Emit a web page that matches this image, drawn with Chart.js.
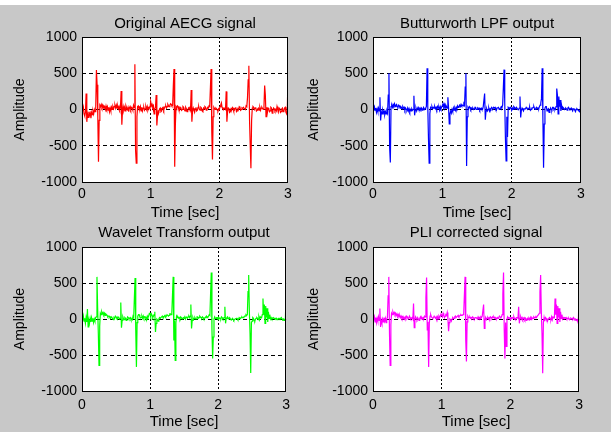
<!DOCTYPE html>
<html>
<head>
<meta charset="utf-8">
<script src="https://cdn.jsdelivr.net/npm/chart.js@4.4.1/dist/chart.umd.min.js"></script>
<style>
  html, body { margin: 0; padding: 0; background: #ffffff; }
  #figure { position: relative; width: 611px; height: 432px; overflow: hidden; }
  #figure .bg { position: absolute; left: 0; top: 5px; width: 611px; height: 427px; background: #c8c8c8; }
  #figure canvas { position: absolute; }
</style>
</head>
<body>
<div id="figure">
  <div class="bg"></div>
  <canvas id="p1" width="290" height="218" style="left:6px;top:5px"></canvas>
  <canvas id="p2" width="289" height="218" style="left:300px;top:5px"></canvas>
  <canvas id="p3" width="290" height="217" style="left:6px;top:215px"></canvas>
  <canvas id="p4" width="289" height="217" style="left:300px;top:215px"></canvas>
</div>
<script>
// Axis limits shared by all four subplots
const timeRange = [0, 3];
const ampRange = [-1000, 1000];
const timeStep = 1;
const ampStep = 500;
const sampleInterval = 0.01; // seconds between samples

const panelTitles = ['Original AECG signal', 'Butturworth LPF output', 'Wavelet Transform output', 'PLI corrected signal'];
const xLabel = 'Time [sec]';
const yLabel = 'Amplitude';

// Amplitude samples, one row per 100 ms (0 .. 3 s)
const originalSignal = [
  40, -20, 30, -60, -90, -40, 220, -170, -60, -110,
  -30, -80, -50, -120, -40, -70, -20, -60, 0, -30,
  20, 545, 340, -100, -720, -150, 60, 40, 70, 30,
  60, 20, 50, 40, 0, 50, 10, 40, -10, 30,
  -30, 20, -20, 30, 0, 40, 10, 40, 60, 20,
  60, 20, 50, 10, 40, 0, 30, 255, -210, -20,
  40, -10, 30, -20, 50, 20, 0, 30, -30, 20,
  40, 0, 30, 20, -10, 60, 30, 625, -560, -740,
  -100, 40, 50, 10, 0, 40, -20, 30, -20, 20,
  30, -10, 10, 40, 0, 40, -10, 20, 30, 10,
  110, 50, 70, 30, 50, -60, 10, 30, 200, -220,
  -80, -20, -30, 10, 20, -30, -20, 20, 30, -10,
  20, 40, 50, 20, 40, 70, 50, 40, 60, 80,
  70, 50, 60, 330, 560, -790, -200, 40, 20, 50,
  40, 0, -10, 30, 20, -10, 0, 40, 30, 0,
  -20, 30, 10, -30, -20, 20, 30, 0, -10, 270,
  -170, -20, 20, -10, -40, 10, 30, -20, -10, 30,
  40, 0, -10, 30, 20, -20, -30, 20, 10, 40,
  30, -10, 0, 30, 20, 50, 40, 300, 560, -300,
  -690, -100, 30, 10, 0, 20, 10, -10, -20, 10,
  0, 40, 60, 90, 30, 10, 0, 20, 10, 0,
  250, -170, -30, 20, 10, -40, -30, 10, 0, 30,
  20, -20, -10, 20, 30, -30, -20, 10, 0, 40,
  30, -10, 0, 20, 10, 30, 20, 10, 0, 50,
  40, 160, 410, 605, -150, -500, -810, -150, 20, 40,
  30, 0, 20, 30, -20, -10, 10, 20, -10, 30,
  -10, 20, 30, 10, 0, 40, 330, 200, -100, 30,
  -40, 20, 10, -30, -20, 30, 20, -50, -20, 20,
  10, -20, 0, -20, 40, 0, -30, 20, 10, -40,
  -30, 10, 20, -30, -20, 20, 30, -40, -60, -20,
  520
];

const butterworthOutput = [
  30, 10, 40, -10, 20, -40, 10, -30, 20, -20,
  170, -150, -30, -60, -10, -50, -20, -70, -30, -60,
  -20, -50, 200, 500, -520, -730, 40, 60, 30, 70,
  50, 80, 40, 60, 70, 40, 30, 60, 50, 20,
  40, 30, 10, 40, 20, 30, -10, 20, 0, -10,
  20, -20, 10, -30, 0, -20, 10, -10, 0, 190,
  -80, -10, 20, -20, 10, 30, 0, -10, 20, 0,
  20, -10, 10, 30, 0, 10, 20, 40, 570, 50,
  -400, -740, -60, 30, 20, 40, 10, 30, 20, 40,
  10, 30, 0, 40, 20, 30, -10, 40, 10, 30,
  50, 80, 40, 70, 20, 60, 40, 20, 170, 20,
  -200, -60, -20, -50, 0, -30, 20, -10, 20, -10,
  30, 10, 50, 30, 40, 60, 40, 70, 50, 60,
  50, 80, 60, 310, 500, -780, -100, 30, 10, 40,
  30, 0, 20, 10, 20, 0, 10, 30, 30, 0,
  0, 20, 10, 20, -10, 10, 20, 0, 0, 40,
  40, 220, -140, -20, 10, -20, 0, 20, -20, 10,
  0, 30, 20, 10, 30, 20, 30, 0, -10, 20,
  20, 30, 0, 10, 20, 40, 30, 60, 300, 550,
  100, -400, -710, -100, -380, 30, 20, 10, 30, 20,
  -10, 20, 0, 40, 30, 10, 20, 30, 10, 0,
  0, 20, 180, -110, -10, 20, 0, -20, 10, 10,
  10, 30, 20, 0, 10, 20, 30, -10, 0, 20,
  20, 30, 40, 10, 0, 20, 30, 10, 20, 10,
  40, 60, 90, 150, 570, -100, -805, -200, 20, 40,
  40, -20, 0, 10, -40, -20, 20, 0, -10, 30,
  30, 0, 10, 0, 40, 290, 200, -60, 180, 40,
  130, -20, 60, 10, 30, 20, 0, 10, 20, 10,
  -10, 20, 30, 10, 0, 10, 20, 0, -20, 10,
  10, -10, -30, 0, 10, 0, -10, -20, -30, 0,
  410
];

const waveletOutput = [
  30, -20, 40, -30, 10, -60, 20, -40, 140, -110,
  -20, -60, 10, -40, 20, -30, 10, -50, 0, -30,
  20, 30, 585, 150, -200, -645, -100, 80, 60, 100,
  70, 90, 60, 80, 50, 70, 60, 50, 30, 40,
  40, 20, 10, 30, 20, 0, -10, 20, 10, 40,
  30, 10, 0, 30, 20, 0, 10, 230, -120, -20,
  30, 0, -10, 20, 10, -20, 0, 30, 20, 0,
  10, 20, -10, 0, -10, 40, 20, 300, 570, -150,
  -665, -50, 40, 60, 60, 30, 20, 20, 40, 10,
  40, 10, 30, 30, 0, -10, 40, 20, 40, 80,
  80, 40, 70, 50, 20, 40, 60, 100, -180, -60,
  0, -10, -30, 0, 20, 10, 10, 30, 40, 20,
  20, 40, 50, 30, 40, 60, 60, 40, 50, 70,
  70, 60, 80, 330, 585, -300, -20, -575, -50, 40,
  20, 30, 10, 20, 0, 30, 20, 0, 10, 20,
  10, 20, 0, 30, 20, 10, 30, 40, 20, 40,
  200, -130, -20, 20, -10, 10, 20, 0, 0, 30,
  30, 10, 20, 40, 30, 20, 10, 30, 20, 0,
  10, 20, 30, 40, 20, 30, 40, 60, 50, 350,
  645, -150, -550, -250, 0, 30, 10, 10, 20, 20,
  -10, 20, 10, 10, 0, 30, 20, 0, 10, 20,
  170, -60, 10, 20, 30, 0, 10, 20, 0, -10,
  -10, 10, 0, -20, -10, 0, 0, 10, 10, -10,
  -10, 20, 10, 10, 20, 30, 20, 20, 30, 40,
  40, 60, 50, 60, 380, 610, 100, -200, -750, -50,
  -30, 20, 10, -20, -30, 0, 10, 20, 10, -10,
  30, -10, 30, 20, 20, 60, 285, 60, 200, -60,
  180, 20, 150, -40, 100, 10, 60, 0, 20, 0,
  10, 20, 10, 0, 10, 0, 10, -10, 0, 10,
  10, 0, 10, 20, 0, -10, 0, -20, -10, 10,
  410
];

const pliCorrected = [
  40, -10, 30, -40, 20, -50, 10, -30, 30, -20,
  145, -110, -20, -60, 0, -40, 20, -30, 10, -50,
  0, 20, 320, 585, -200, -645, -80, 80, 60, 100,
  70, 90, 60, 80, 50, 70, 40, 60, 30, 50,
  20, 40, 10, 30, 0, 20, 0, 30, 10, 40,
  30, 0, 10, 40, 20, 0, 10, 20, 0, 215,
  -120, -10, 30, 10, -10, 20, 0, -20, 10, 30,
  0, 20, 0, 20, 10, 40, 30, 300, 575, -150,
  -40, -665, -50, 40, 60, 30, 20, 10, 20, 40,
  40, 10, 30, 0, 30, 0, 40, 20, 40, 70,
  70, 30, 80, 50, 20, 40, 60, 50, 90, 10,
  -170, -50, 0, -10, -30, 0, 20, 10, 10, 30,
  40, 20, 20, 40, 50, 30, 40, 50, 60, 50,
  50, 60, 70, 330, 585, -300, -590, -40, 40, 20,
  20, 30, 10, 20, 10, 30, 20, 0, 10, 20,
  20, 10, 0, 30, 10, 20, 0, 30, 20, 40,
  40, 200, -130, -20, 20, -10, 10, 20, 0, 20,
  0, 30, 20, 10, 30, 20, 30, 10, 20, 0,
  0, 20, 10, 20, 40, 30, 20, 30, 60, 350,
  645, -150, -550, -50, -380, 0, 30, 10, 20, 10,
  -10, 20, 10, 20, 10, 30, 0, 10, 0, 20,
  20, 10, 170, -60, 10, 30, 0, 20, -10, 10,
  20, -10, 10, -20, 0, 10, -10, 10, -10, 20,
  -10, 20, 10, 10, 30, 20, 20, 30, 20, 40,
  40, 60, 80, 380, 610, 100, -200, -755, -50, 20,
  -30, 20, 10, -20, -30, 0, 10, 20, 0, -10,
  30, -10, 30, 20, 20, 285, 60, 200, -60, 180,
  20, 150, -40, 100, 10, 60, 0, 20, 10, 20,
  10, 20, 0, 10, 0, 10, -10, 0, 10, 0,
  10, 0, 20, 0, -10, 0, -20, -10, -20, 10,
  410
];

const FONT = '"Liberation Sans", Arial, Helvetica, sans-serif';

// white axes background, full black box and a title centred over the axes
const axesBox = {
  id: 'axesBox',
  beforeDraw(chart) {
    const a = chart.chartArea, ctx = chart.ctx;
    ctx.save();
    ctx.fillStyle = '#ffffff';
    ctx.fillRect(a.left, a.top, a.right - a.left, a.bottom - a.top);
    ctx.restore();
  },
  afterDraw(chart, args, opts) {
    const a = chart.chartArea, ctx = chart.ctx;
    ctx.save();
    ctx.strokeStyle = '#000000';
    ctx.lineWidth = 1;
    ctx.strokeRect(Math.round(a.left) + 0.5, Math.round(a.top) + 0.5,
      Math.round(a.right - a.left) - 1, Math.round(a.bottom - a.top));
    ctx.fillStyle = '#000000';
    ctx.font = '15px ' + FONT;
    ctx.textAlign = 'center';
    ctx.textBaseline = 'middle';
    ctx.fillText(opts.text, (a.left + a.right) / 2, opts.y);
    ctx.restore();
  }
};

function makePanel(id, title, values, color, box) {
  new Chart(document.getElementById(id), {
    type: 'line',
    data: {
      datasets: [{
        data: values.map((v, i) => ({ x: i * sampleInterval, y: v })),
        borderColor: color,
        borderWidth: 1.2,
        pointRadius: 0,
        tension: 0,
        fill: false
      }]
    },
    options: {
      responsive: false,
      animation: false,
      devicePixelRatio: 1,
      layout: { padding: { top: 32, left: 0, right: box.right, bottom: 0 } },
      plugins: {
        legend: { display: false },
        tooltip: { enabled: false },
        axesBox: { text: title, y: box.titleY }
      },
      scales: {
        x: {
          type: 'linear',
          min: timeRange[0], max: timeRange[1],
          afterFit(scale) { scale.height = box.xHeight; },
          ticks: {
            stepSize: timeStep, color: '#000', padding: box.xTickPad, maxRotation: 0, autoSkip: false,
            font: { family: FONT, size: 14 },
            callback: v => String(v)
          },
          grid: {
            drawTicks: false,
            color: c => (c.tick && c.tick.value > timeRange[0] && c.tick.value < timeRange[1]) ? '#000' : 'rgba(0,0,0,0)'
          },
          border: { display: false, dash: [2, 2] },
          title: {
            display: true, text: xLabel, color: '#000',
            font: { family: FONT, size: 15 },
            padding: { top: 0, bottom: box.xTitlePad }
          }
        },
        y: {
          min: ampRange[0], max: ampRange[1],
          afterFit(scale) { scale.width = box.yWidth; },
          ticks: {
            stepSize: ampStep, color: '#000', padding: 5, autoSkip: false,
            font: { family: FONT, size: 14 },
            callback: v => String(v)
          },
          grid: {
            drawTicks: false,
            color: c => (c.tick && c.tick.value > ampRange[0] && c.tick.value < ampRange[1]) ? '#000' : 'rgba(0,0,0,0)'
          },
          border: { display: false, dash: [4, 3] },
          title: {
            display: true, text: yLabel, color: '#000',
            font: { family: FONT, size: 14 },
            padding: { top: 6, bottom: 0 }
          }
        }
      }
    },
    plugins: [axesBox]
  });
}

const topRow = { titleY: 18.5, xHeight: 41, xTickPad: 4, xTitlePad: 1.5 };
const bottomRow = { titleY: 17.5, xHeight: 41, xTickPad: 6, xTitlePad: 1 };

makePanel('p1', panelTitles[0], originalSignal, '#ff0000', Object.assign({ yWidth: 76, right: 8 }, topRow));
makePanel('p2', panelTitles[1], butterworthOutput, '#0000ff', Object.assign({ yWidth: 73, right: 8 }, topRow));
makePanel('p3', panelTitles[2], waveletOutput, '#00ff00', Object.assign({ yWidth: 76, right: 8 }, bottomRow));
makePanel('p4', panelTitles[3], pliCorrected, '#ff00ff', Object.assign({ yWidth: 73, right: 8 }, bottomRow));
</script>
</body>
</html>
